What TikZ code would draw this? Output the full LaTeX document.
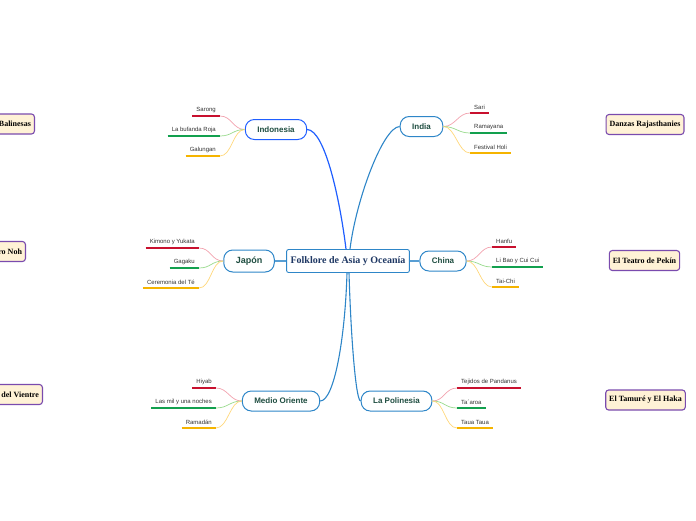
\documentclass[tikz,border=0pt]{standalone}
\usepackage{fontspec}
\setmainfont{Liberation Serif}
\setsansfont{Liberation Sans}
\usepackage{tikz}
\usetikzlibrary{shapes}

\definecolor{topicblue}{HTML}{2E86C8}
\definecolor{brightblue}{HTML}{1F5EFF}
\definecolor{titlenavy}{HTML}{1F3864}
\definecolor{topictext}{HTML}{1E4D40}
\definecolor{floatfill}{HTML}{FFF2D6}
\definecolor{floatline}{HTML}{7A4BAE}
\definecolor{linered}{HTML}{C8102E}
\definecolor{linegreen}{HTML}{12A04E}
\definecolor{lineyellow}{HTML}{F5B400}
\definecolor{curvered}{HTML}{F2A2AE}
\definecolor{curvegreen}{HTML}{98DA8C}
\definecolor{curveyellow}{HTML}{FFD77A}

\begin{document}
\begin{tikzpicture}[x=1pt, y=-1pt,
    title/.style={draw=topicblue, line width=0.9pt, rounded corners=2pt, fill=white,
        inner xsep=4pt, minimum height=23pt, text=titlenavy,
        font=\bfseries\fontsize{10}{12}\selectfont},
    topic/.style={draw=topicblue, line width=1pt, rounded corners=9pt, fill=white,
        inner xsep=12pt, minimum height=20pt, text=topictext,
        font=\sffamily\bfseries\fontsize{8}{9}\selectfont},
    leaf/.style={inner xsep=4pt, inner ysep=3pt, text=black!80,
        font=\sffamily\fontsize{6}{7}\selectfont},
    floating/.style={draw=floatline, line width=1.1pt, rounded corners=3pt, fill=floatfill,
        inner xsep=3.5pt, minimum height=20pt,
        font=\bfseries\fontsize{8}{10}\selectfont},
    uline/.style={line width=1.4pt},
    twig/.style={line width=0.7pt}]
        \useasboundingbox (0,0) rectangle (696,520);
        \clip (0,0) rectangle (696,520);

        % Central topic
        \node[title] (main) at (348,261) {Folklore de Asia y Oceanía};

        % Main topics
        \node[topic, draw=brightblue] (indo) at (276,129.5) {Indonesia};
        \node[topic] (india) at (421.5,126.5) {India};
        \node[topic, font=\sffamily\bfseries\fontsize{9}{10}\selectfont, minimum height=22pt] (japon) at (249,261) {Japón};
        \node[topic] (china) at (443,261) {China};
        \node[topic] (medio) at (281,401) {Medio Oriente};
        \node[topic] (poli) at (396.5,401) {La Polinesia};

        % Floating topics
        \node[floating, anchor=east] (bali) at (35,124) {Danzas Balinesas};
        \node[floating, anchor=east] (noh) at (26,251.5) {Teatro Noh};
        \node[floating, anchor=east] (vientre) at (43,394.5) {Danza del Vientre};
        \node[floating] (rajas) at (645,124.5) {Danzas Rajasthanies};
        \node[floating] (pekin) at (644.5,260.5) {El Teatro de Pekín};
        \node[floating] (tamure) at (645.5,400) {El Tamuré y El Haka};

        % Branches from the centre
        \draw[brightblue, line width=1.2pt] (main.north -| 346,0) .. controls (340,200) and (325,130) .. (indo.east);
        \draw[topicblue, line width=1.1pt] (main.north -| 350,0) .. controls (356,200) and (383,127) .. (india.west);
        \draw[topicblue!80, line width=1.1pt] (main.west) -- (japon.east);
        \draw[topicblue!80, line width=1.1pt] (main.east) -- (china.west);
        \draw[topicblue, line width=1.1pt] (main.south -| 347,0) .. controls (345,340) and (334,401) .. (medio.east);
        \draw[topicblue, line width=1.1pt] (main.south -| 349,0) .. controls (351,340) and (356,401) .. (poli.west);

        % Indonesia
        \node[leaf, anchor=south east] (sarong) at (220,116) {Sarong};
        \node[leaf, anchor=south east] (bufanda) at (220,136) {La bufanda Roja};
        \node[leaf, anchor=south east] (galungan) at (220,156) {Galungan};
        \draw[uline, linered] (sarong.south west) -- (sarong.south east);
        \draw[uline, linegreen] (bufanda.south west) -- (bufanda.south east);
        \draw[uline, lineyellow] (galungan.south west) -- (galungan.south east);
        \draw[twig, curvered] (indo.west) .. controls +(-12,0) and +(12,0) .. (sarong.south east);
        \draw[twig, curvegreen] (indo.west) .. controls +(-12,0) and +(12,0) .. (bufanda.south east);
        \draw[twig, curveyellow] (indo.west) .. controls +(-12,0) and +(12,0) .. (galungan.south east);

        % India
        \node[leaf, anchor=south west] (sari) at (470,113) {Sari};
        \node[leaf, anchor=south west] (ramayana) at (470,133) {Ramayana};
        \node[leaf, anchor=south west] (holi) at (470,153) {Festival Holi};
        \draw[uline, linered] (sari.south west) -- (sari.south east);
        \draw[uline, linegreen] (ramayana.south west) -- (ramayana.south east);
        \draw[uline, lineyellow] (holi.south west) -- (holi.south east);
        \draw[twig, curvered] (india.east) .. controls +(12,0) and +(-12,0) .. (sari.south west);
        \draw[twig, curvegreen] (india.east) .. controls +(12,0) and +(-12,0) .. (ramayana.south west);
        \draw[twig, curveyellow] (india.east) .. controls +(12,0) and +(-12,0) .. (holi.south west);

        % Japón
        \node[leaf, anchor=south east] (kimono) at (199,248) {Kimono y Yukata};
        \node[leaf, anchor=south east] (gagaku) at (199,268) {Gagaku};
        \node[leaf, anchor=south east] (te) at (199,288) {Ceremonia del Té};
        \draw[uline, linered] (kimono.south west) -- (kimono.south east);
        \draw[uline, linegreen] (gagaku.south west) -- (gagaku.south east);
        \draw[uline, lineyellow] (te.south west) -- (te.south east);
        \draw[twig, curvered] (japon.west) .. controls +(-12,0) and +(12,0) .. (kimono.south east);
        \draw[twig, curvegreen] (japon.west) .. controls +(-12,0) and +(12,0) .. (gagaku.south east);
        \draw[twig, curveyellow] (japon.west) .. controls +(-12,0) and +(12,0) .. (te.south east);

        % China
        \node[leaf, anchor=south west] (hanfu) at (492,247) {Hanfu};
        \node[leaf, anchor=south west] (libao) at (492,267) {Li Bao y Cui Cui};
        \node[leaf, anchor=south west] (taichi) at (492,287) {Tai-Chi};
        \draw[uline, linered] (hanfu.south west) -- (hanfu.south east);
        \draw[uline, linegreen] (libao.south west) -- (libao.south east);
        \draw[uline, lineyellow] (taichi.south west) -- (taichi.south east);
        \draw[twig, curvered] (china.east) .. controls +(12,0) and +(-12,0) .. (hanfu.south west);
        \draw[twig, curvegreen] (china.east) .. controls +(12,0) and +(-12,0) .. (libao.south west);
        \draw[twig, curveyellow] (china.east) .. controls +(12,0) and +(-12,0) .. (taichi.south west);

        % Medio Oriente
        \node[leaf, anchor=south east] (hiyab) at (216,388) {Hiyab};
        \node[leaf, anchor=south east] (noches) at (216,408) {Las mil y una noches};
        \node[leaf, anchor=south east] (ramadan) at (216,428) {Ramadán};
        \draw[uline, linered] (hiyab.south west) -- (hiyab.south east);
        \draw[uline, linegreen] (noches.south west) -- (noches.south east);
        \draw[uline, lineyellow] (ramadan.south west) -- (ramadan.south east);
        \draw[twig, curvered] (medio.west) .. controls +(-12,0) and +(12,0) .. (hiyab.south east);
        \draw[twig, curvegreen] (medio.west) .. controls +(-12,0) and +(12,0) .. (noches.south east);
        \draw[twig, curveyellow] (medio.west) .. controls +(-12,0) and +(12,0) .. (ramadan.south east);

        % La Polinesia
        \node[leaf, anchor=south west] (tejidos) at (457,388) {Tejidos de Pandanus};
        \node[leaf, anchor=south west] (taaroa) at (457,408) {Ta´aroa};
        \node[leaf, anchor=south west] (taua) at (457,428) {Taua Taua};
        \draw[uline, linered] (tejidos.south west) -- (tejidos.south east);
        \draw[uline, linegreen] (taaroa.south west) -- (taaroa.south east);
        \draw[uline, lineyellow] (taua.south west) -- (taua.south east);
        \draw[twig, curvered] (poli.east) .. controls +(12,0) and +(-12,0) .. (tejidos.south west);
        \draw[twig, curvegreen] (poli.east) .. controls +(12,0) and +(-12,0) .. (taaroa.south west);
        \draw[twig, curveyellow] (poli.east) .. controls +(12,0) and +(-12,0) .. (taua.south west);
    \end{tikzpicture}
\end{document}
